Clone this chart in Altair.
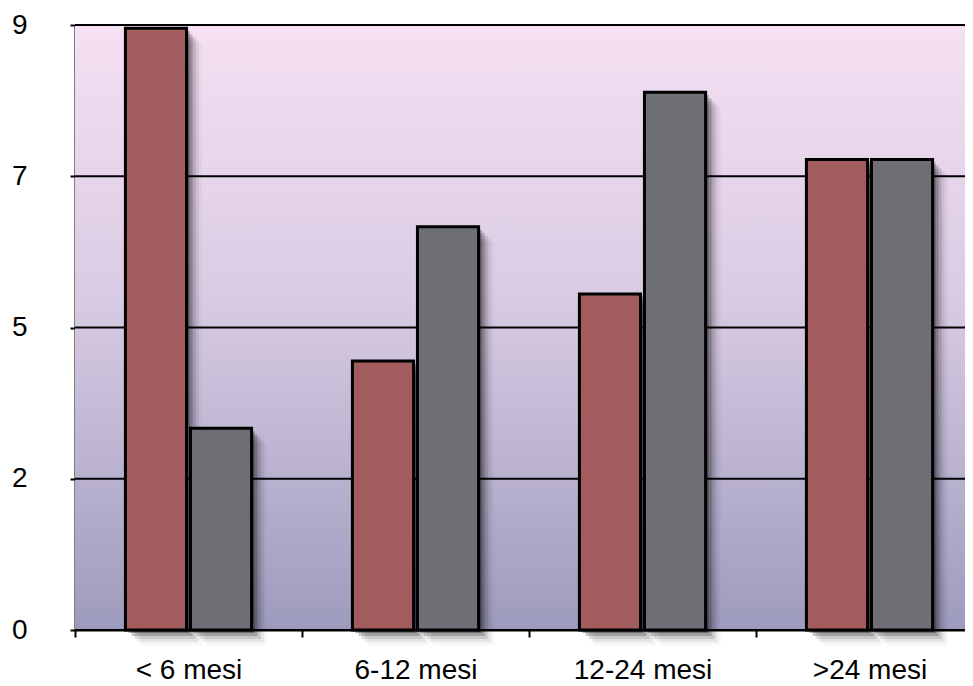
import altair as alt
import pandas as pd

# ---- data ----
categories = ["< 6 mesi", "6-12 mesi", "12-24 mesi", ">24 mesi"]
series_names = ["Serie 1", "Serie 2"]
serie_1 = [8.95, 4, 5, 7]
serie_2 = [3, 6, 8, 7]
y_ticks = [0, 2.25, 4.5, 6.75, 9]
y_labels = ["0", "2", "5", "7", "9"]

# ---- styles ----
W, H = 890, 605        # visible plot area (the band range runs past the page edge)
RANGE_W = 908
FONT = "Liberation Sans"
bar_colors = ["#a35c5d", "#6e6f74"]

rows = []
for c, a, b in zip(categories, serie_1, serie_2):
    rows.append({"cat": c, "serie": series_names[0], "v": a})
    rows.append({"cat": c, "serie": series_names[1], "v": b})
df = pd.DataFrame(rows)
grid_df = pd.DataFrame({"v": y_ticks})

label_expr = " : ".join(
    [f"datum.value == {t} ? '{l}'" for t, l in zip(y_ticks, y_labels)]
) + " : ''"

y_scale = alt.Scale(domain=[0, 9], nice=False, zero=True)
y_axis = alt.Axis(
    title=None,
    values=y_ticks,
    labelExpr=label_expr,
    grid=False,
    domainColor="black",
    domainWidth=2,
    tickColor="black",
    tickWidth=2,
    tickSize=5,
    labelFont=FONT,
    labelFontSize=28,
    labelColor="black",
    labelPadding=43,
)
y_enc = alt.Y("v:Q", scale=y_scale, axis=y_axis)

bg = alt.Chart(pd.DataFrame({"a": [0]})).mark_rect(
    color=alt.Gradient(
        gradient="linear",
        x1=0, x2=0, y1=0, y2=1,
        stops=[
            alt.GradientStop(color="#f6e0f3", offset=0),
            alt.GradientStop(color="#d9cbe3", offset=0.45),
            alt.GradientStop(color="#9d9bbd", offset=1),
        ],
    )
).encode(x=alt.value(0), x2=alt.value(RANGE_W), y=alt.value(0), y2=alt.value(H))

grid = alt.Chart(grid_df).mark_rule(color="black", strokeWidth=2).encode(
    y=y_enc, x=alt.value(0), x2=alt.value(RANGE_W)
)

x_enc = alt.X(
    "cat:N",
    sort=categories,
    scale=alt.Scale(paddingInner=0, paddingOuter=0, range=[0, RANGE_W]),
    axis=alt.Axis(
        title=None,
        labelAngle=0,
        tickBand="extent",
        domainColor="black",
        domainWidth=2,
        tickColor="black",
        tickWidth=2,
        tickSize=7,
        labelFont=FONT,
        labelFontSize=28,
        labelColor="black",
        labelPadding=19,
        grid=False,
    ),
)


def xoff(align=0.5):
    return alt.XOffset(
        "serie:N",
        sort=series_names,
        scale=alt.Scale(paddingInner=0.06, paddingOuter=0.775, align=align),
    )


shadows = []
for off, op in [(3, 0.3), (6, 0.2), (9, 0.12), (12, 0.07), (15, 0.035)]:
    shadows.append(
        alt.Chart(df).mark_bar(color="black", opacity=op, yOffset=off).encode(
            x=x_enc, xOffset=xoff(0.5 + off / 100.0), y=y_enc
        )
    )

bars = alt.Chart(df).mark_bar(stroke="black", strokeWidth=3).encode(
    x=x_enc,
    xOffset=xoff(0.5),
    y=y_enc,
    color=alt.Color(
        "serie:N",
        scale=alt.Scale(domain=series_names, range=bar_colors),
        legend=None,
    ),
)

chart = (
    alt.layer(bg, grid, *shadows, bars)
    .resolve_scale(xOffset="independent")
    .properties(
        width=W,
        height=H,
        autosize=alt.AutoSizeParams(type="none"),
        padding={"left": 67, "top": 17, "right": 0, "bottom": 54},
        background="white",
    )
    .configure_view(stroke=None)
)

chart.save("out.html", embed_options={"renderer": "svg", "actions": False})
